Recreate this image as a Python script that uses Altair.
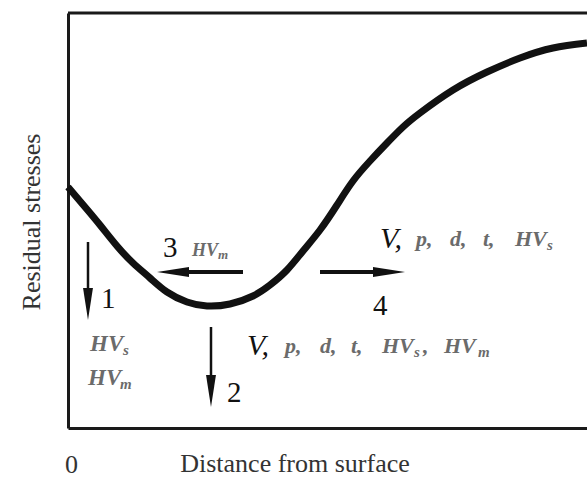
import altair as alt
import pandas as pd

# Plot-area size in data units (1 unit = 1 px), stress axis points up
W, H = 519, 415

# Residual-stress profile against distance from the surface (schematic)
curve_x = [0, 17, 32, 49, 65, 82, 99, 119, 139, 162, 185, 202, 219, 235, 252,
           269, 285, 302, 319, 335, 352, 385, 419, 452, 485, 519]
curve_y = [241, 221, 203, 182, 165, 150, 136, 126, 122, 124, 132, 143, 158, 177, 198,
           223, 247, 267, 285, 301, 315, 338, 356, 370, 380, 385]

# Effect arrows: start and tip of each shaft
arrow_id = ["1", "2", "3", "4"]
arrow_x0 = [20, 143, 175, 252]
arrow_y0 = [186, 101, 156, 156]
arrow_x1 = [20, 143, 89, 337]
arrow_y1 = [108, 21, 156, 156]
arrow_kind = ["v", "v", "h", "h"]

# Arrow numbers
num_text = ["1", "2", "3", "4"]
num_x = [33, 159, 95, 305]
num_y = [120, 26, 171, 113]

# Leading "V," of the parameter lists
v_text = ["V,", "V,"]
v_x = [179, 312]
v_y = [73, 180]

# Parameter lists (main glyphs)
par_text = ["p,", "d,", "t,", "HV", ",", "HV", "p,", "d,", "t,", "HV"]
par_x = [217, 252, 283, 314, 355, 376, 348, 382, 415, 447]
par_y = [75, 75, 75, 75, 75, 75, 182, 182, 182, 182]

# Hardness labels beside arrow 1
hv_text = ["HV", "HV"]
hv_x = [22, 20]
hv_y = [77, 43]

# Hardness label beside arrow 3
hv3_text = ["HV"]
hv3_x = [124]
hv3_y = [172]

# Subscripts
sub_text = ["s", "m", "s", "s", "m"]
sub_x = [346, 410, 479, 55, 52]
sub_y = [71, 71, 178, 73, 39]
sub3_text = ["m"]
sub3_x = [150]
sub3_y = [169]

# Axis titles, anchored in data units just outside the frame
xtitle_text = ["Distance from surface"]
xtitle_x = [227]
xtitle_y = [-44]
ytitle_text = ["Residual stresses"]
ytitle_x = [-28]
ytitle_y = [206]

SERIF = "Liberation Serif"
GRAY = "#6b6b6b"
INK = "#111111"
TITLE_INK = "#333333"

xs = alt.Scale(domain=[0, W], nice=False, zero=False)
ys = alt.Scale(domain=[0, H], nice=False, zero=False)

x_axis = alt.Axis(
    values=[0], ticks=False, tickSize=0, grid=False,
    domainColor="#1a1a1a", domainWidth=3,
    labelFont=SERIF, labelFontSize=26, labelColor=TITLE_INK,
    labelPadding=44, labelBaseline="alphabetic", labelAlign="center",
    labelFlush=False, labelOffset=3, title="",
)
y_axis = alt.Axis(
    ticks=False, labels=False, grid=False,
    domainColor="#1a1a1a", domainWidth=3, title="",
)


def X(field):
    return alt.X(field, scale=xs, axis=x_axis)


def Y(field):
    return alt.Y(field, scale=ys, axis=y_axis)


curve_df = pd.DataFrame({"x": curve_x, "y": curve_y})
curve = alt.Chart(curve_df).mark_line(
    color=INK, strokeWidth=7, interpolate="natural", strokeCap="butt"
).encode(x=X("x:Q"), y=Y("y:Q"))

# Top edge of the frame
top_edge = alt.Chart(pd.DataFrame({"y": [H], "xa": [0], "xb": [W]})).mark_rule(
    color="#1a1a1a", strokeWidth=3
).encode(y=Y("y:Q"), x=X("xa:Q"), x2="xb:Q")

arrows = pd.DataFrame({
    "id": arrow_id, "x0": arrow_x0, "y0": arrow_y0,
    "x1": arrow_x1, "y1": arrow_y1, "kind": arrow_kind,
})
# Head centre sits half a head length back from the tip
HEAD = 32
dx = (arrows.x1 - arrows.x0)
dy = (arrows.y1 - arrows.y0)
length = (dx ** 2 + dy ** 2) ** 0.5
arrows["hx"] = arrows.x1 - dx / length * HEAD / 2
arrows["hy"] = arrows.y1 - dy / length * HEAD / 2
# screen angle: down = 0, left = 90, right = 270
arrows["ang"] = [0 if k == "v" else (90 if b < a else 270)
                 for k, a, b in zip(arrows.kind, arrows.x0, arrows.x1)]

base_arrows = alt.Chart(arrows)
shaft_v = base_arrows.transform_filter(alt.datum.kind == "v").mark_rule(
    color=INK, strokeWidth=2.5
).encode(x=X("x0:Q"), y=Y("y0:Q"), x2="hx:Q", y2="hy:Q")
shaft_h = base_arrows.transform_filter(alt.datum.kind == "h").mark_rule(
    color=INK, strokeWidth=4
).encode(x=X("x0:Q"), y=Y("y0:Q"), x2="hx:Q", y2="hy:Q")
heads = base_arrows.mark_point(
    shape="M -0.31 -1 L 0.31 -1 L 0 1 Z", filled=True, opacity=1,
    color=INK, size=HEAD * HEAD, strokeWidth=0,
).encode(
    x=X("hx:Q"), y=Y("hy:Q"),
    angle=alt.Angle("ang:Q", scale=None),
)


def text_layer(texts, x, y, size, color, style="normal", weight="normal",
               align="left", angle=0):
    df = pd.DataFrame({"t": texts, "x": x, "y": y})
    return alt.Chart(df).mark_text(
        font=SERIF, fontSize=size, color=color, fontStyle=style,
        fontWeight=weight, align=align, baseline="alphabetic", angle=angle,
    ).encode(x=X("x:Q"), y=Y("y:Q"), text="t:N")


numbers = text_layer(num_text, num_x, num_y, 29, INK)
v_labels = text_layer(v_text, v_x, v_y, 30, INK, style="italic")
params = text_layer(par_text, par_x, par_y, 22, GRAY, style="italic", weight="bold")
hv_left = text_layer(hv_text, hv_x, hv_y, 23, GRAY, style="italic", weight="bold")
hv_three = text_layer(hv3_text, hv3_x, hv3_y, 18, GRAY, style="italic", weight="bold")
subs = text_layer(sub_text, sub_x, sub_y, 15, GRAY, style="italic", weight="bold")
subs3 = text_layer(sub3_text, sub3_x, sub3_y, 13, GRAY, style="italic", weight="bold")
x_title = text_layer(xtitle_text, xtitle_x, xtitle_y, 26, TITLE_INK, align="center")
y_title = text_layer(ytitle_text, ytitle_x, ytitle_y, 26, TITLE_INK, align="center",
                     angle=270)

chart = alt.layer(
    curve, top_edge, shaft_v, shaft_h, heads,
    numbers, v_labels, params, hv_left, hv_three, subs, subs3,
    x_title, y_title,
).properties(
    width=W, height=H,
    autosize=alt.AutoSizeParams(type="none"),
    padding={"left": 68, "top": 13, "right": 0, "bottom": 49},
    background="white",
).configure_view(stroke=None)

chart.save("out.html", embed_options={"renderer": "svg", "actions": False})
